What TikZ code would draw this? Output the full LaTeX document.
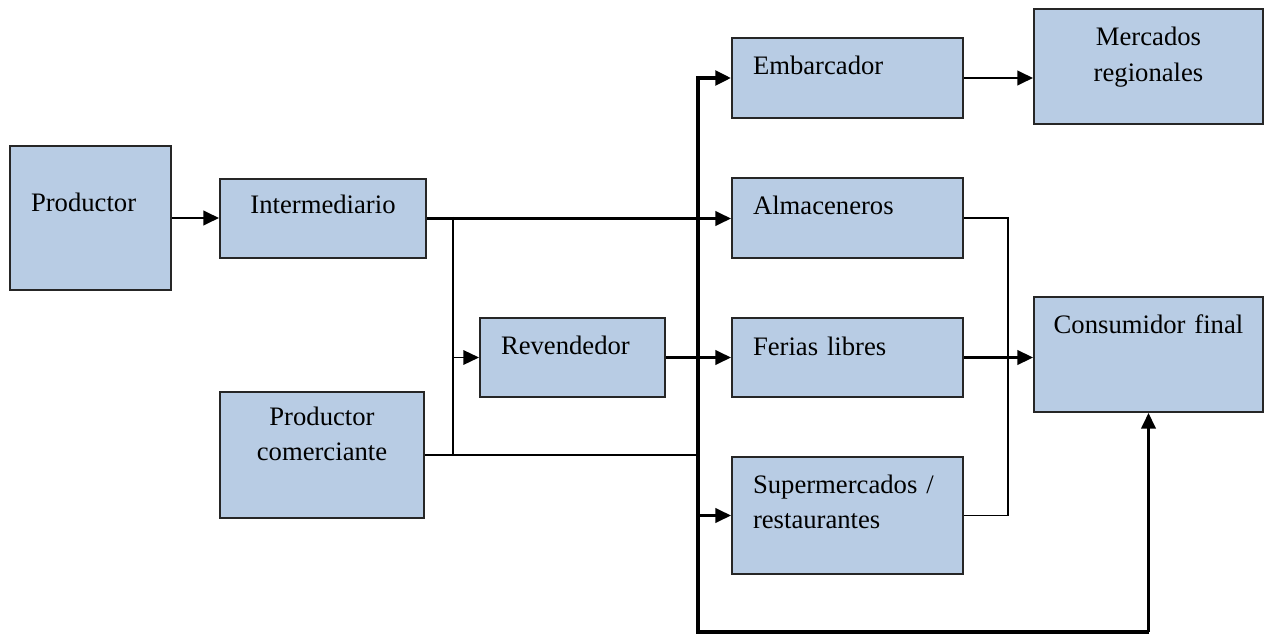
\documentclass[tikz,border=0pt]{standalone}
\usepackage{fontspec}
\setmainfont{Liberation Serif}
\usepackage{tikz}
\usetikzlibrary{arrows.meta}
\definecolor{azulcaja}{HTML}{B8CCE4}
\tikzset{
	caja/.style={draw=black!85, line width=0.9pt, fill=azulcaja, inner ysep=0pt, anchor=north west, font=\fontsize{12pt}{15.8pt}\selectfont},
	izq/.style={align=left, inner xsep=9.45pt},
	cen/.style={align=center, inner xsep=4.5pt},
	punta/.style={-{Triangle[length=7pt,width=6.5pt]}},
	flecha/.style={line width=1pt, punta},
	linea/.style={line width=1pt},
	fina/.style={line width=0.75pt},
	bus/.style={line width=1.6pt, line join=miter}
}

\begin{document}
\begin{tikzpicture}[x=0.45pt, y=-0.45pt]
		%%%%% START %%%%%
		\fill[white] (0,0) rectangle (1266,635);
		\useasboundingbox (0,0) rectangle (1266,635);
		
		\node[caja, izq, text width=53.55pt, text height=29.25pt, text depth=35.55pt] (prod) at (9,145) {Productor};
		\node[caja, cen, text width=83.7pt, text height=15.3pt, text depth=20.25pt] (inter) at (219,178) {Intermediario};
		\node[caja, cen, text width=82.8pt, text height=14.85pt, text depth=41.85pt] (prodcom) at (219,391) {Productor\\comerciante};
		\node[caja, izq, text width=64.35pt, text height=16.2pt, text depth=19.35pt] (reven) at (479,317) {Revendedor};
		
		\node[caja, izq, text width=85.05pt, text height=16.65pt, text depth=19.35pt] (emb) at (731,37) {Embarcador};
		\node[caja, izq, text width=85.05pt, text height=16.65pt, text depth=19.35pt] (alm) at (731,177) {Almaceneros};
		\node[caja, izq, text width=85.05pt, text height=16.65pt, text depth=18.9pt] (ferias) at (731,317) {Ferias libres};
		\node[caja, izq, text width=85.05pt, text height=16.2pt, text depth=36.45pt] (super) at (731,456) {Supermercados /\\restaurantes};
		
		\node[caja, cen, text width=94.05pt, text height=16.65pt, text depth=35.1pt] (merc) at (1033,8) {Mercados\\regionales};
		\node[caja, cen, text width=94.05pt, text height=16.65pt, text depth=35.1pt] (cons) at (1033,296) {Consumidor final};
		
		\coordinate (ramal) at (453,217);
		\coordinate (bus) at (698,632);
		\coordinate (colector) at (1008,355);
		
		% productor e intermediario
		\draw[flecha] (prod.east) -- (prod.east -| inter.west);
		\draw[flecha] (inter.east) -- (inter.east -| alm.west);
		\draw[fina] (ramal) -- (prodcom.east -| ramal);
		\draw[fina, punta] (reven.west -| ramal) -- (reven.west);
		\draw[linea] (prodcom.east) -- (prodcom.east -| bus);
		\draw[flecha] (reven.east) -- (reven.east -| ferias.west);
		
		% linea gruesa
		\draw[bus, punta] (bus -| cons.south) -- (bus) -- (emb.west -| bus) -- (emb.west);
		\draw[flecha] (super.west -| bus) -- (super.west);
		\draw[flecha] (bus -| cons.south) -- (cons.south);
		
		% hacia la derecha
		\draw[flecha] (emb.east) -- (emb.east -| merc.west);
		\draw[fina] (alm.east) -- (alm.east -| colector) -- (super.east -| colector) -- (super.east);
		\draw[flecha, line width=1.2pt] (ferias.east) -- (ferias.east -| cons.west);
		
		%%%%% END %%%%%
	\end{tikzpicture}
\end{document}
